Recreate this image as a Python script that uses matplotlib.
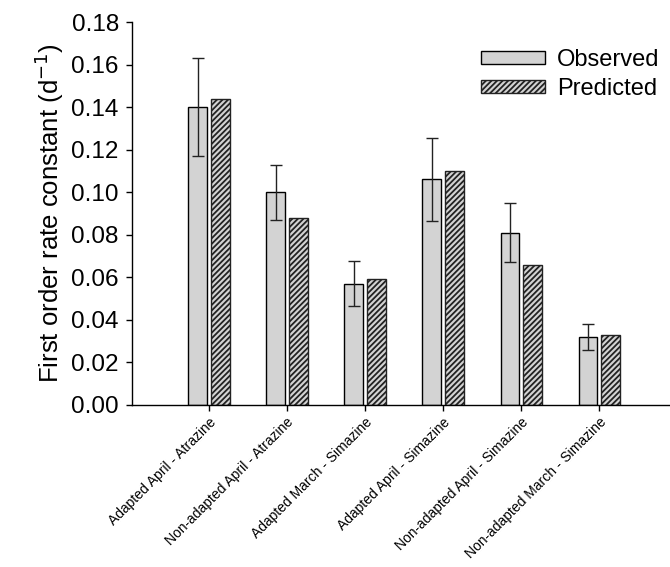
import numpy as np
import matplotlib
matplotlib.use("Agg")
import matplotlib.pyplot as plt

plt.rcParams['font.family'] = ['Liberation Sans', 'DejaVu Sans']
plt.rcParams['hatch.linewidth'] = 1.3

categories = ["Adapted April - Atrazine", "Non-adapted April - Atrazine",
              "Adapted March - Simazine", "Adapted April - Simazine",
              "Non-adapted April - Simazine", "Non-adapted March - Simazine"]
observed = [0.140, 0.100, 0.057, 0.106, 0.081, 0.032]
observed_err = [0.023, 0.013, 0.0105, 0.0195, 0.014, 0.006]
predicted = [0.144, 0.088, 0.059, 0.110, 0.066, 0.033]

fig = plt.figure(figsize=(6.7, 5.67), dpi=100)
ax = fig.add_axes([0.197, 0.286, 0.803, 0.675])

x = np.arange(len(categories))
w = 0.24
ax.bar(x - 0.14, observed, w, color='#d3d3d3', edgecolor='black', linewidth=1.0,
       label='Observed', zorder=2)
ax.errorbar(x - 0.14, observed, yerr=observed_err, fmt='none', ecolor='#222222',
            elinewidth=1.0, capsize=4.5, capthick=1.0, zorder=3)
ax.bar(x + 0.15, predicted, w, color='#d3d3d3', edgecolor='#222222', linewidth=1.0,
       hatch='//////', label='Predicted', zorder=2)

ax.set_xlim(-0.98, 5.91)
ax.set_ylim(0, 0.18)
yt = np.arange(0, 0.181, 0.02)
ax.set_yticks(yt)
ax.set_yticklabels([f"{v:.2f}" for v in yt], fontsize=17.5)
ax.set_xticks(x)
ax.set_xticklabels(categories, rotation=45, ha='right', rotation_mode='anchor', fontsize=10)
ax.tick_params(axis='x', length=4.5, width=1, pad=3)
ax.tick_params(axis='y', length=4.5, width=1, pad=5)
ax.set_ylabel('First order rate constant (d$^{-1}$)', fontsize=18.5, labelpad=4)

for side in ['top', 'right']:
    ax.spines[side].set_visible(False)
for side in ['left', 'bottom']:
    ax.spines[side].set_linewidth(1.0)

ax.legend(loc='upper right', bbox_to_anchor=(1.02, 0.985), frameon=False, fontsize=17,
          handlelength=2.7, handleheight=0.45, handletextpad=0.5, labelspacing=0.3)

fig.savefig("out.png", dpi=100)
